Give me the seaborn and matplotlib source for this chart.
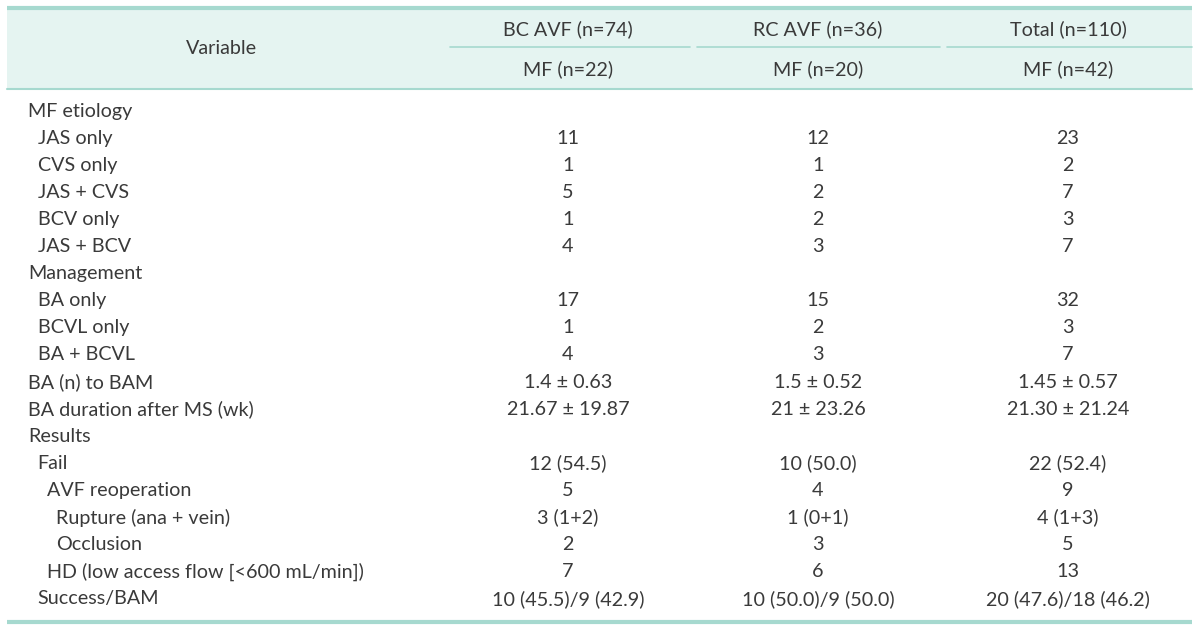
import matplotlib.pyplot as plt
import seaborn as sns

# table content
group_labels = ["BC AVF (n=74)", "RC AVF (n=36)", "Total (n=110)"]
sub_labels = ["MF (n=22)", "MF (n=20)", "MF (n=42)"]

variables = [
    "MF etiology", "JAS only", "CVS only", "JAS + CVS", "BCV only", "JAS + BCV",
    "Management", "BA only", "BCVL only", "BA + BCVL",
    "BA (n) to BAM", "BA duration after MS (wk)",
    "Results", "Fail", "AVF reoperation", "Rupture (ana + vein)", "Occlusion",
    "HD (low access flow [<600 mL/min])", "Success/BAM",
]
indent = [0, 1, 1, 1, 1, 1, 0, 1, 1, 1, 0, 0, 0, 1, 2, 3, 3, 2, 1]

bc_values = ["", "11", "1", "5", "1", "4", "", "17", "1", "4",
             "1.4 ± 0.63", "21.67 ± 19.87", "", "12 (54.5)", "5", "3 (1+2)", "2", "7",
             "10 (45.5)/9 (42.9)"]
rc_values = ["", "12", "1", "2", "2", "3", "", "15", "2", "3",
             "1.5 ± 0.52", "21 ± 23.26", "", "10 (50.0)", "4", "1 (0+1)", "3", "6",
             "10 (50.0)/9 (50.0)"]
total_values = ["", "23", "2", "7", "3", "7", "", "32", "3", "7",
                "1.45 ± 0.57", "21.30 ± 21.24", "", "22 (52.4)", "9", "4 (1+3)", "5", "13",
                "20 (47.6)/18 (46.2)"]

sns.set_theme(style="white")
plt.rcParams["font.family"] = ["Lato", "DejaVu Sans"]

text_color = "#3a3a3a"
line_color = "#a6d9cf"
header_bg = "#e5f4f1"
fs = 14.2

fig = plt.figure(figsize=(12, 6.3), dpi=100)
ax = fig.add_axes([0, 0, 1, 1])
ax.set_xlim(0, 1200)
ax.set_ylim(630, 0)
ax.axis("off")

left, right = 7, 1192
top, head_bottom, bottom = 8, 89, 622
col_x = [568, 818, 1068]
seg = [(450, 690), (697, 940), (947, 1192)]

ax.axhspan(top, head_bottom, xmin=left / 1200, xmax=right / 1200, color=header_bg, lw=0)
ax.plot([left, right], [top, top], color=line_color, lw=3, solid_capstyle="butt")
ax.plot([left, right], [head_bottom, head_bottom], color=line_color, lw=1.5)
ax.plot([left, right], [bottom, bottom], color=line_color, lw=3, solid_capstyle="butt")
for x0, x1 in seg:
    ax.plot([x0, x1], [47, 47], color=line_color, lw=1.2)

ax.text(222, 49, "Variable", ha="center", va="center", fontsize=fs, color=text_color)
for x, g, s in zip(col_x, group_labels, sub_labels):
    ax.text(x, 29, g, ha="center", va="center", fontsize=fs, color=text_color)
    ax.text(x, 69, s, ha="center", va="center", fontsize=fs, color=text_color)

row_y0, row_h = 111, 27.1
for i, name in enumerate(variables):
    y = row_y0 + i * row_h
    ax.text(28 + indent[i] * 9.5, y, name, ha="left", va="center", fontsize=fs, color=text_color)
    for x, vals in zip(col_x, [bc_values, rc_values, total_values]):
        ax.text(x, y, vals[i], ha="center", va="center", fontsize=fs, color=text_color)

fig.savefig("out.png", dpi=100, facecolor="white")
